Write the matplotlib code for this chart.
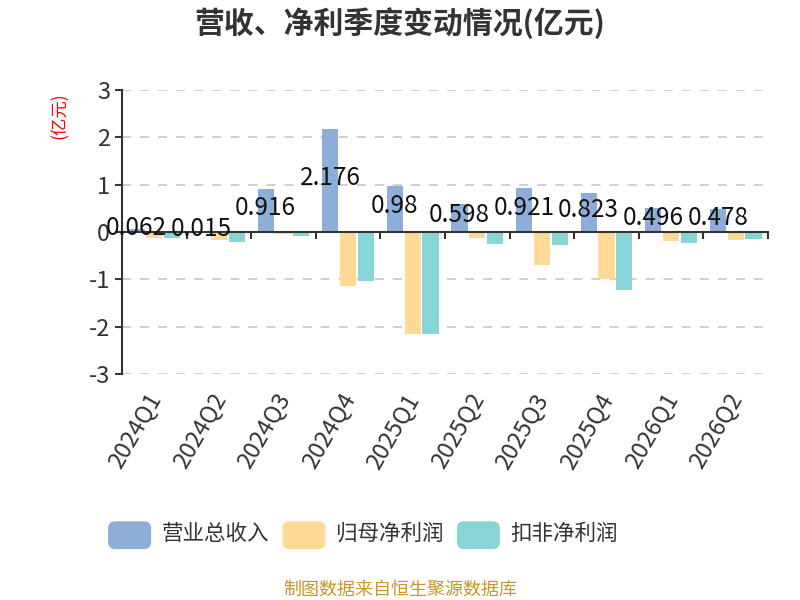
import matplotlib
matplotlib.use("Agg")
import matplotlib.pyplot as plt
from matplotlib.patches import FancyBboxPatch
import numpy as np

plt.rcParams['font.family'] = ['Noto Sans CJK SC', 'DejaVu Sans']
plt.rcParams['axes.unicode_minus'] = False

quarters = ["2024Q1", "2024Q2", "2024Q3", "2024Q4", "2025Q1",
            "2025Q2", "2025Q3", "2025Q4", "2026Q1", "2026Q2"]
revenue = [0.062, 0.015, 0.916, 2.176, 0.98, 0.598, 0.921, 0.823, 0.496, 0.478]
net_profit = [-0.12, -0.18, -0.05, -1.14, -2.16, -0.13, -0.71, -1.00, -0.19, -0.17]
deducted_profit = [-0.12, -0.21, -0.09, -1.03, -2.16, -0.25, -0.27, -1.22, -0.23, -0.15]
series_names = ["营业总收入", "归母净利润", "扣非净利润"]
colors = ["#8EAEDA", "#FFD995", "#88D5D8"]

fig = plt.figure(figsize=(8, 6), dpi=100)
ax = fig.add_axes([0.1525, 0.377, 0.8075, 0.473])

x = np.arange(len(quarters)) + 0.5
w = 0.25
off = 0.275
for vals, dx, c in zip([revenue, net_profit, deducted_profit], [-off, 0, off], colors):
    ax.bar(x + dx, vals, width=w, color=c, zorder=3)

# value labels on revenue bars
for xi, v in zip(x, revenue):
    ax.text(xi - off, v / 2 + 0.05, str(v), ha='center', va='center',
            fontsize=17.5, color='#111111', zorder=5)

ax.set_xlim(0, len(quarters))
ax.set_ylim(-3, 3)
ax.set_yticks(range(-3, 4))
ax.tick_params(axis='y', labelsize=17, colors='#333333', length=5, width=1.5)
for t in [-3, -2, -1, 1, 2, 3]:
    ax.axhline(t, color='#cccccc', lw=1.3, ls=(0, (5, 5)), zorder=1)

ax.spines['top'].set_visible(False)
ax.spines['right'].set_visible(False)
ax.spines['left'].set_color('#333333')
ax.spines['left'].set_linewidth(1.5)
ax.spines['bottom'].set_position(('data', 0))
ax.spines['bottom'].set_color('#333333')
ax.spines['bottom'].set_linewidth(1.5)
ax.spines['bottom'].set_zorder(4)
ax.set_xticks(np.arange(len(quarters) + 1))
ax.set_xticklabels([])
ax.tick_params(axis='x', length=5, width=1.5, colors='#333333', direction='out')

for xi, q in zip(x, quarters):
    ax.text(xi + 0.02, -0.075, q, transform=ax.get_xaxis_transform(),
            rotation=60, ha='right', va='center', fontsize=17,
            color='#333333', rotation_mode='anchor')

fig.text(0.075, 0.808, "(亿元)", rotation=90, color='red', fontsize=12.5,
         ha='center', va='center')

fig.text(0.5, 0.962, "营收、净利季度变动情况(亿元)", ha='center', va='center',
         fontsize=21.5, fontweight='bold', color='#333333')

# legend
leg_x = [0.136, 0.354, 0.572]
for lx, name, c in zip(leg_x, series_names, colors):
    fig.patches.append(FancyBboxPatch((lx, 0.086), 0.052, 0.044,
                                      boxstyle="round,pad=0,rounding_size=0.008",
                                      transform=fig.transFigure, color=c,
                                      mutation_aspect=1.33))
    fig.text(lx + 0.066, 0.110, name, ha='left', va='center',
             fontsize=15.5, color='#333333')

fig.text(0.5, 0.017, "制图数据来自恒生聚源数据库", ha='center', va='center',
         fontsize=13, color='#C8962A')

fig.savefig("out.png", dpi=100)
